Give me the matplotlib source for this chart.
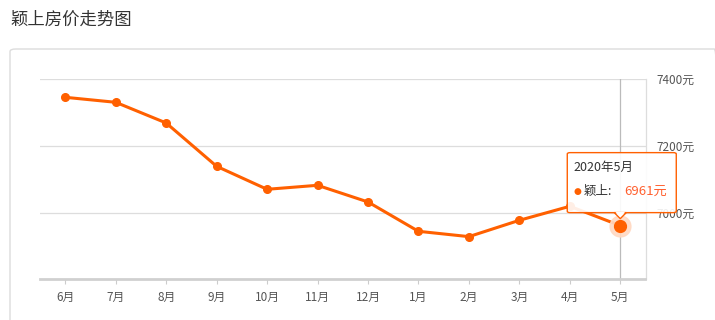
import matplotlib
matplotlib.use("Agg")
import matplotlib.pyplot as plt
from matplotlib.patches import FancyBboxPatch, Polygon
import numpy as np

plt.rcParams['font.family'] = ['Noto Sans CJK SC', 'DejaVu Sans']

title = "颖上房价走势图"
months = ["6月", "7月", "8月", "9月", "10月", "11月", "12月", "1月", "2月", "3月", "4月", "5月"]
prices = [7346, 7331, 7269, 7139, 7070, 7082, 7032, 6944, 6928, 6977, 7019, 6961]
yticks = [7000, 7200, 7400]
ytick_labels = ["7000元", "7200元", "7400元"]
tooltip_title = "2020年5月"
series_name = "颖上"

W, H = 715, 320
fig = plt.figure(figsize=(W / 100, H / 100), dpi=100)
fig.patch.set_facecolor("white")

def fx(x):
    return x / W

def fy(y):
    return 1 - y / H

# card border
card = FancyBboxPatch((fx(10), fy(340)), fx(720) - fx(10), fy(49) - fy(340),
                      boxstyle="round,pad=0,rounding_size=0.008",
                      transform=fig.transFigure, facecolor="none",
                      edgecolor="#dcdcdc", linewidth=1.0, zorder=0)
fig.patches.append(card)

fig.text(fx(10), fy(20), title, fontsize=12.5, color="#333333", va="center", ha="left")

ax = fig.add_axes([fx(40), fy(279.3), fx(645.5) - fx(40), fy(79.3) - fy(279.3)])
ax.set_facecolor("none")
ax.set_zorder(2)
x = np.arange(len(months))
ax.set_xlim(-0.5, len(months) - 0.5)
ax.set_ylim(6800, 7400)

for v in yticks:
    ax.axhline(v, color="#dddddd", linewidth=0.9, zorder=1)

for s in ["top", "left"]:
    ax.spines[s].set_visible(False)
ax.spines["right"].set_color("#dddddd")
ax.spines["right"].set_linewidth(0.9)
ax.spines["bottom"].set_color("#d0d0d0")
ax.spines["bottom"].set_linewidth(2.0)

ax.yaxis.tick_right()
ax.set_yticks(yticks)
ax.set_yticklabels(ytick_labels)
ax.tick_params(axis="y", length=0, pad=8, labelsize=8.5, labelcolor="#555555")
ax.set_xticks(x)
ax.set_xticklabels(months)
ax.tick_params(axis="x", length=3.5, width=0.8, color="#cccccc", pad=5,
               labelsize=8.5, labelcolor="#555555")

# axis pointer line at last point
ax.axvline(x[-1], color="#bbbbbb", linewidth=0.9, zorder=1)

line_color = "#ff6000"
ax.plot(x, prices, color=line_color, linewidth=2.2, marker="o", markersize=5.5,
        zorder=3, clip_on=False)
# highlighted last point
ax.plot(x[-1], prices[-1], "o", markersize=15, color="#ffd9c2", alpha=0.9, zorder=3.5, clip_on=False)
ax.plot(x[-1], prices[-1], "o", markersize=8.5, color=line_color, zorder=4, clip_on=False)

# tooltip in pixel coordinates relative to point
fig.canvas.draw()
px, py_disp = ax.transData.transform((x[-1], prices[-1]))
py = H - py_disp
left, right, top, bottom = px - 53, px + 56, py - 73, py - 13
box = FancyBboxPatch((fx(left), fy(bottom)), fx(right) - fx(left), fy(top) - fy(bottom),
                     boxstyle="round,pad=0,rounding_size=0.004",
                     transform=fig.transFigure, facecolor=(1, 1, 1, 0.9),
                     edgecolor="#ff6000", linewidth=1.0, zorder=10)
fig.patches.append(box)
tri = Polygon([(fx(px - 6), fy(bottom)), (fx(px + 6), fy(bottom)), (fx(px), fy(bottom + 6))],
              closed=True, transform=fig.transFigure, facecolor="white",
              edgecolor="#ff6000", linewidth=1.0, zorder=10)
fig.patches.append(tri)
cover = Polygon([(fx(px - 5), fy(bottom - 0.8)), (fx(px + 5), fy(bottom - 0.8)), (fx(px), fy(bottom + 4.5))],
                closed=True, transform=fig.transFigure, facecolor="white",
                edgecolor="none", zorder=11)
fig.patches.append(cover)

fig.text(fx(left + 6), fy(top + 15), tooltip_title, fontsize=9, color="#333333",
         va="center", ha="left", zorder=12)
fig.text(fx(left + 6), fy(top + 39), "●", fontsize=6.5, color="#ff6000",
         va="center", ha="left", zorder=12, family=["DejaVu Sans"])
fig.text(fx(left + 16), fy(top + 39), series_name + ":", fontsize=9, color="#333333",
         va="center", ha="left", zorder=12)
fig.text(fx(right - 9), fy(top + 39), f"{prices[-1]}元", fontsize=9.5, color="#ff5f2e",
         va="center", ha="right", zorder=12)

fig.savefig("out.png", dpi=100)
